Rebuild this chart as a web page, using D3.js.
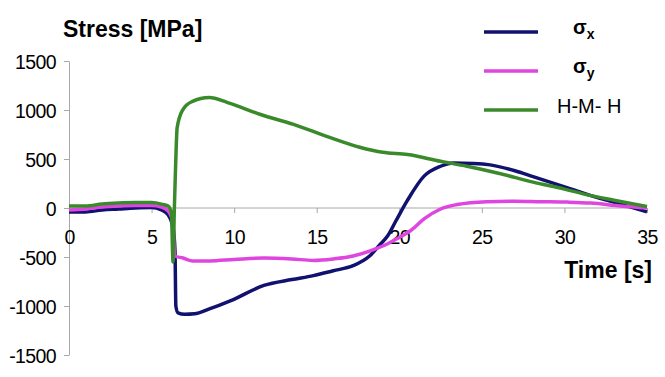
<!DOCTYPE html>
<html>
<head>
<meta charset="utf-8">
<style>
    body { margin: 0; background: #fff; }
    svg { font-family: Arial, "Liberation Sans", sans-serif; }
    .axis path, .axis line { stroke: #a8a8a8; }
    .axis text { font-size: 19.5px; fill: #000; letter-spacing: -0.6px; }
</style>
</head>
<body>
<svg class="chart"></svg>
<script src="https://cdn.jsdelivr.net/npm/d3@7/dist/d3.min.js"></script>
<script>
    // values, time in s, stress in MPa
    var xTicks = [0, 5, 10, 15, 20, 25, 30, 35],
        yTicks = [1500, 1000, 500, 0, -500, -1000, -1500];

    var timeX = [0, 1, 2, 3, 4, 5, 5.6, 6.0, 6.3, 6.42, 6.47, 6.6, 7.0, 7.6, 8.5, 9.8, 11.8, 13.5, 14.8, 16, 17.2,
                 18.2, 18.8, 19.3, 19.8, 20.5, 21.5, 22.5, 23.3, 24.5, 25.5, 27, 28.1, 30.2, 32.2, 33.4, 35],
        sigmaX = [-40, -40, -20, -10, 0, 5, -20, -70, -200, -450, -1000, -1070, -1085, -1080, -1030, -945, -790, -730, -690, -640, -589,
                  -490, -380, -284, -130, 80, 325, 426, 460, 455, 440, 380, 320, 205, 95, 40, -40];

    var timeY = [0, 1, 2, 3, 4, 5, 5.6, 6.0, 6.3, 6.4, 6.9, 7.5, 8.5, 10, 11.8, 13.5, 14.8, 16, 17.2, 18.2, 19.3,
                 20, 20.7, 21.5, 22.5, 23.5, 25.3, 27, 28.5, 30.2, 31.6, 33.4, 35],
        sigmaY = [-20, -10, 10, 20, 25, 25, 10, -30, -150, -490, -510, -540, -540, -525, -510, -520, -535, -520, -490, -440, -365,
                  -300, -230, -112, -10, 35, 65, 70, 65, 60, 50, 20, 0];

    var timeH = [0, 1, 2, 3, 4, 5, 5.6, 6.0, 6.2, 6.3, 6.38, 6.45, 6.55, 6.9, 7.45, 8.5, 9.6, 11.6, 13.6, 15.6, 17.6,
                 19, 20.5, 22.5, 24.1, 26, 28.1, 30, 31.2, 33, 35],
        stressH = [20, 20, 40, 50, 55, 55, 40, 20, -50, -550, 0, 400, 820, 1005, 1086, 1127, 1076, 954, 853, 731, 620,
                   568, 545, 477, 426, 355, 264, 193, 142, 80, 15];

    var width = 665,
        height = 377;

    var x = d3.scaleLinear()
        .domain([0, 35])
        .range([69, 647]);

    var y = d3.scaleLinear()
        .domain([-1500, 1500])
        .range([355, 61]);

    // plain numbers with a hyphen minus, like the original
    var plain = function (d) { return String(d); };

    var svg = d3.select('.chart')
        .attr("width", width)
        .attr("height", height);

    // y axis on the left edge of the plot
    svg.append('g')
        .attr("class", "y axis")
        .attr("transform", "translate(" + x(0) + ",0)")
        .call(d3.axisLeft(y).tickValues(yTicks).tickFormat(plain).tickSize(5).tickSizeOuter(0).tickPadding(8))
        .selectAll("text")
        .attr("dy", "0.36em");

    // x axis sits at stress = 0
    var xAxis = svg.append('g')
        .attr("class", "x axis")
        .attr("transform", "translate(0," + y(0) + ")")
        .call(d3.axisBottom(x).tickValues(xTicks).tickFormat(plain).tickSize(5).tickSizeOuter(0).tickPadding(17));
    xAxis.select(".domain").attr("d", "M" + x(0) + ",0H" + x(35));

    var line = d3.line()
        .x(function (d) { return x(d[0]); })
        .y(function (d) { return y(d[1]); })
        .curve(d3.curveMonotoneX);

    var series = [
        {t: timeX, v: sigmaX, color: "#11116f"},
        {t: timeY, v: sigmaY, color: "#df45df"},
        {t: timeH, v: stressH, color: "#3a8a2c"}
    ];

    svg.append('g')
        .selectAll('path')
        .data(series)
        .enter()
        .append('path')
        .attr("fill", "none")
        .attr("stroke", function (d) { return d.color; })
        .attr("stroke-width", 3.5)
        .attr("stroke-linejoin", "round")
        .attr("d", function (d) {
            return line(d.t.map(function (t, i) { return [t, d.v[i]]; }));
        });

    // axis titles
    svg.append("text")
        .attr("x", 63).attr("y", 37)
        .attr("font-size", "23px").attr("font-weight", "bold")
        .text("Stress [MPa]");

    svg.append("text")
        .attr("x", 652).attr("y", 278)
        .attr("text-anchor", "end")
        .attr("font-size", "23px").attr("font-weight", "bold")
        .text("Time [s]");

    // legend
    var legend = svg.append('g');
    var items = [
        {color: "#11116f", y: 32, label: "σ", sub: "x"},
        {color: "#df45df", y: 71, label: "σ", sub: "y"},
        {color: "#3a8a2c", y: 110, label: "H-M- H"}
    ];
    items.forEach(function (d) {
        legend.append("line")
            .attr("x1", 484).attr("x2", 538)
            .attr("y1", d.y).attr("y2", d.y)
            .attr("stroke", d.color)
            .attr("stroke-width", 3.5);
        if (d.sub) {
            var t = legend.append("text")
                .attr("x", 573).attr("y", d.y + 2)
                .attr("font-size", "20px").attr("font-weight", "bold");
            t.append("tspan").text(d.label);
            t.append("tspan").attr("dy", 5).attr("font-size", "14px").text(d.sub);
        } else {
            legend.append("text")
                .attr("x", 557).attr("y", d.y + 3)
                .attr("font-size", "20px")
                .text(d.label);
        }
    });
</script>
</body>
</html>
